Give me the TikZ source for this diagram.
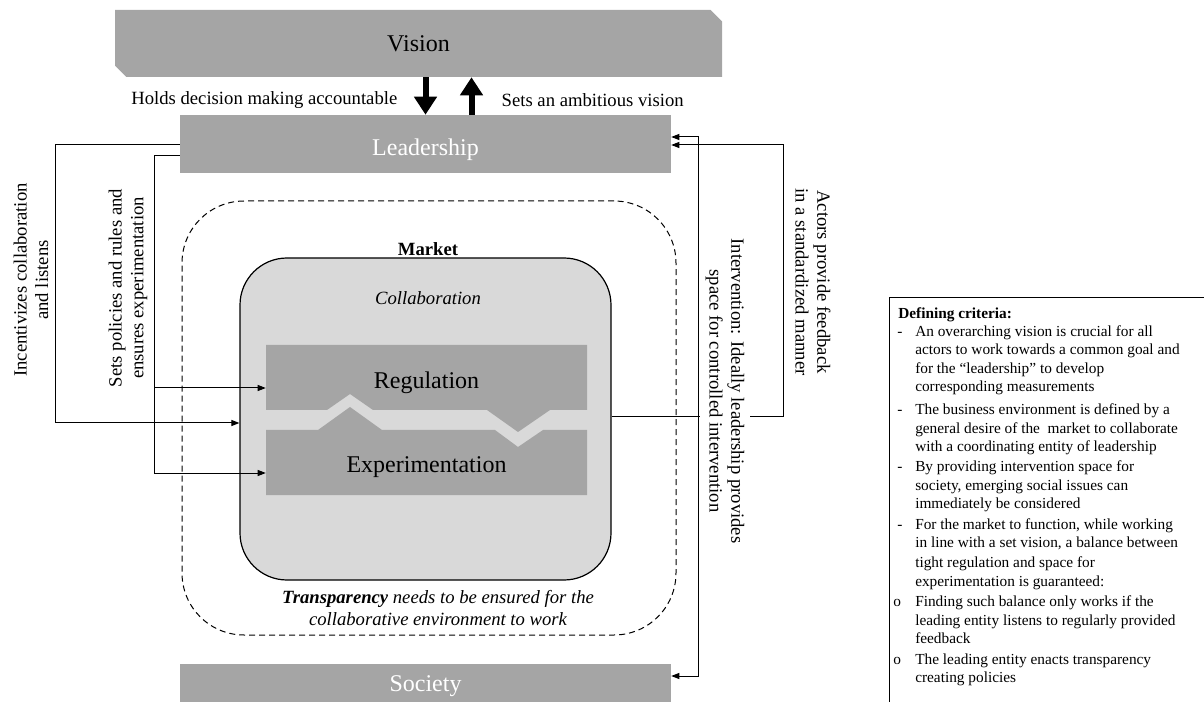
\documentclass[tikz,border=0pt]{standalone}
\usepackage{fontspec}
\setmainfont{Liberation Serif}
\usepackage{tikz}
\usetikzlibrary{arrows.meta,positioning,calc,shapes.misc}
\definecolor{blockgray}{HTML}{A5A5A5}
\definecolor{mktgray}{HTML}{D9D9D9}
\newcommand{\lblsize}{\fontsize{14}{16.2}\selectfont}
\newcommand{\dashitem}{\hspace*{3pt}\makebox[13.5pt][l]{-}}
\newcommand{\oitem}{\makebox[16.5pt][l]{o}}
\newcommand{\cont}{\hspace*{16.5pt}}

\begin{document}
\begin{tikzpicture}[
  x=0.75pt, y=-0.75pt,
  font=\lblsize,
  block/.style={fill=blockgray, inner sep=0pt, font=\fontsize{18}{21}\selectfont},
  inlabel/.style={inner sep=0pt, font=\fontsize{18}{21}\selectfont},
  arrow/.style={-{Triangle[length=6pt, width=4.5pt]}, line width=0.75pt},
  twoway/.style={{Triangle[length=6pt, width=4.5pt]}-{Triangle[length=6pt, width=4.5pt]}, line width=0.75pt},
  bigarrow/.style={-{Triangle[length=13.5pt, width=16.5pt]}, line width=4.5pt},
  sidetext/.style={align=center, inner sep=0pt}
]
\useasboundingbox (0,0) rectangle (1204,702);
\clip (0,0) rectangle (1204,702);

% actors and levels
\node[block, chamfered rectangle, chamfered rectangle corners={north east,south west},
  chamfered rectangle xsep=5.5pt, minimum width=455.25pt, minimum height=50.25pt]
  (vision) at (418.5,43.5) {Vision};
\node[block, text=white, text height=18pt, text depth=0pt,
  minimum width=368.25pt, minimum height=43.5pt] (lead) at (425.5,144) {Leadership};
\node[block, text=white, minimum width=368.25pt, minimum height=33.75pt] (soc) at (425.5,686.5) {Society};

\node[anchor=east] (holds) at (402,100) {Holds decision making accountable};
\node[anchor=west] (sets) at (497,100) {Sets an ambitious vision};
\draw[bigarrow] (vision.south -| lead.north) -- (lead.north);
\draw[bigarrow] ($(lead.north)+(46,0)$) -- ($(vision.south -| lead.north)+(46,0)$);

% market
\node[draw, dashed, dash pattern=on 4.5pt off 3pt, line width=0.75pt, rounded corners=46.5pt,
  minimum width=370.5pt, minimum height=325.5pt] (mkt) at (429,418) {};
\node[draw, fill=mktgray, line width=0.9pt, rounded corners=35.25pt,
  minimum width=278.25pt, minimum height=241.5pt] (coll) at (425.5,419) {};
\node[font=\lblsize\bfseries] (mktlabel) at (428,249) {Market};
\node[font=\lblsize\itshape] (colllabel) at (428,298) {Collaboration};

\fill[blockgray] (266,345) -- (587,345) -- (587,410) -- (550,410) -- (518,432) -- (487,410)
  -- (373,410) -- (350,394) -- (327,410) -- (266,410) -- cycle;
\fill[blockgray] (266,430) -- (318,430) -- (350,407) -- (382,430) -- (495,430) -- (518,447)
  -- (543,430) -- (587,430) -- (587,495) -- (266,495) -- cycle;
\node[inlabel, minimum width=240.75pt] (reg) at (426.5,383) {Regulation};
\node[inlabel, minimum width=240.75pt] (exp) at (426.5,467) {Experimentation};

\node[sidetext, font=\lblsize\itshape] (transp) at (438,608)
  {\textbf{Transparency} needs to be ensured for the\\collaborative environment to work};

% leadership into the market
\draw[arrow] ($(lead.west)+(0,1)$) -- ++(-124,0) |- ($(coll.west)+(0,4)$);
\draw[arrow] ($(lead.west)+(0,12)$) -- ++(-25,0) |- ($(reg.west)+(0,5)$);
\draw[arrow] ($(lead.west)+(0,12)$) -- ++(-25,0) |- ($(exp.west)+(0,6)$);
\node[sidetext, rotate=90] (incent) at (31,280) {Incentivizes collaboration\\and listens};
\node[sidetext, rotate=90] (policy) at (128,288) {Sets policies and rules and\\ensures experimentation};

% feedback and intervention
\draw[arrow] ($(coll.east)+(0,-2)$) -- ++(172,0) |- ($(lead.east)+(0,1)$);
\node[sidetext, rotate=-90, fill=white, inner sep=4pt] (interv) at (725,391)
  {Intervention: Ideally leadership provides\\space for controlled intervention};
\draw[twoway] ($(lead.east)+(0,-7)$) -- ++(27,0) |- ($(soc.east)+(0,-10.5)$);
\node[sidetext, rotate=-90] (actors) at (813,282) {Actors provide feedback\\in a standardized manner};

% criteria
\node[draw, line width=0.9pt, anchor=north west, minimum width=250pt, minimum height=320pt] (critbox) at (889,297) {};
\node[anchor=north west, inner sep=0pt, align=left, font=\fontsize{11.5}{13.8}\selectfont] (crit) at (893,307)
  {\hspace*{3.75pt}\textbf{Defining criteria:}\\
   \dashitem An overarching vision is crucial for all\\
   \cont actors to work towards a common goal and\\
   \cont for the “leadership” to develop\\
   \cont corresponding measurements\\[3.5pt]
   \dashitem The business environment is defined by a\\
   \cont general desire of the\ \ market to collaborate\\
   \cont with a coordinating entity of leadership\\[1.5pt]
   \dashitem By providing intervention space for\\
   \cont society, emerging social issues can\\
   \cont immediately be considered\\[1.5pt]
   \dashitem For the market to function, while working\\
   \cont in line with a set vision, a balance between\\[1.5pt]
   \cont tight regulation and space for\\
   \cont experimentation is guaranteed:\\[1.5pt]
   \oitem Finding such balance only works if the\\
   \cont leading entity listens to regularly provided\\
   \cont feedback\\[2pt]
   \oitem The leading entity enacts transparency\\
   \cont creating policies};
\end{tikzpicture}
\end{document}
